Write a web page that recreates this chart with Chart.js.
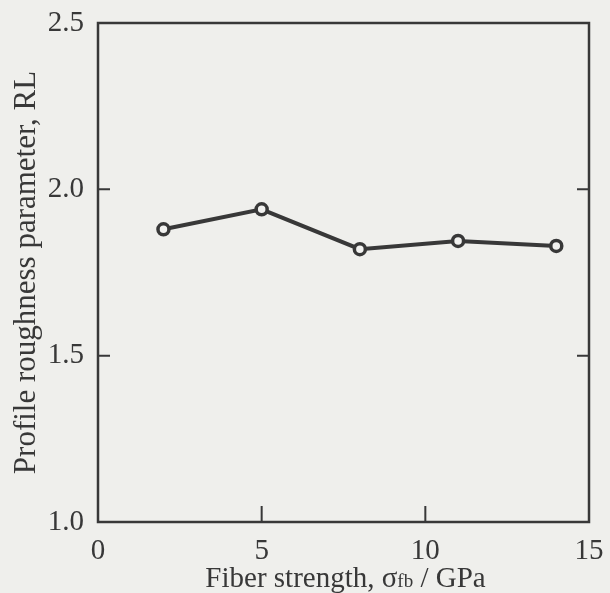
<!DOCTYPE html>
<html>
<head>
<meta charset="utf-8">
<script src="https://cdn.jsdelivr.net/npm/chart.js@4.4.1/dist/chart.umd.min.js"></script>
<style>
  html, body { margin: 0; padding: 0; background: #efefec; }
  #wrap { width: 610px; height: 593px; position: relative; }
</style>
</head>
<body>
<div id="wrap"><canvas id="c" width="610" height="593"></canvas></div>
<script>
// Fiber strength (GPa) and profile roughness parameter RL
const fiberStrength = [2, 5, 8, 11, 14];
const roughnessRL = [1.88, 1.94, 1.82, 1.845, 1.83];
const xTicks = [0, 5, 10, 15];
const yTicks = [1.0, 1.5, 2.0, 2.5];

const INK = '#383838';
const FONT = '"Liberation Serif", "Times New Roman", serif';

// Plot frame with short inward ticks on the left, right and bottom edges
const framePlugin = {
  id: 'frame',
  afterDraw(chart) {
    const { ctx, chartArea: a, scales } = chart;
    ctx.save();
    ctx.strokeStyle = INK;
    ctx.lineWidth = 2.5;
    ctx.strokeRect(a.left, a.top, a.right - a.left, a.bottom - a.top);
    ctx.lineWidth = 2;
    ctx.beginPath();
    yTicks.slice(1, -1).forEach(v => {
      const y = scales.y.getPixelForValue(v);
      ctx.moveTo(a.left, y); ctx.lineTo(a.left + 12, y);
      ctx.moveTo(a.right, y); ctx.lineTo(a.right - 12, y);
    });
    xTicks.slice(1, -1).forEach(v => {
      const x = scales.x.getPixelForValue(v);
      ctx.moveTo(x, a.bottom); ctx.lineTo(x, a.bottom - 16);
    });
    ctx.stroke();

    // x-axis title with a small "fb" after sigma
    const parts = [
      { t: 'Fiber strength, σ', s: 29 },
      { t: 'fb', s: 19 },
      { t: ' / GPa', s: 29 }
    ];
    let total = 0;
    parts.forEach(p => { ctx.font = p.s + 'px ' + FONT; p.w = ctx.measureText(p.t).width; total += p.w; });
    let x = (a.left + a.right) / 2 - total / 2 + 2;
    const base = 587;
    ctx.fillStyle = INK;
    ctx.textBaseline = 'alphabetic';
    ctx.textAlign = 'left';
    parts.forEach(p => { ctx.font = p.s + 'px ' + FONT; ctx.fillText(p.t, x, base); x += p.w; });
    ctx.restore();
  }
};

new Chart(document.getElementById('c'), {
  type: 'scatter',
  data: {
    datasets: [{
      data: fiberStrength.map((v, i) => ({ x: v, y: roughnessRL[i] })),
      showLine: true,
      borderColor: INK,
      borderWidth: 4,
      pointRadius: 5.5,
      pointBorderWidth: 3.5,
      pointBorderColor: INK,
      pointBackgroundColor: '#f2f2f0'
    }]
  },
  options: {
    responsive: false,
    animation: false,
    layout: { padding: { top: 23, right: 21, left: 0, bottom: 0 } },
    plugins: { legend: { display: false }, tooltip: { enabled: false } },
    scales: {
      x: {
        type: 'linear', min: 0, max: 15,
        afterBuildTicks(s) { s.ticks = xTicks.map(v => ({ value: v })); },
        afterFit(s) { s.height = 71; s.paddingLeft = 0; s.paddingRight = 0; },
        grid: { display: false, drawTicks: false },
        border: { display: false },
        ticks: { color: INK, padding: 12, maxRotation: 0, font: { family: FONT, size: 29 } }
      },
      y: {
        type: 'linear', min: 1.0, max: 2.5,
        afterBuildTicks(s) { s.ticks = yTicks.map(v => ({ value: v })); },
        afterFit(s) { s.width = 98; s.paddingTop = 0; s.paddingBottom = 0; },
        grid: { display: false, drawTicks: false },
        border: { display: false },
        ticks: { color: INK, padding: 14, font: { family: FONT, size: 29 }, callback: v => Number(v).toFixed(1) },
        title: { display: true, text: 'Profile roughness parameter, RL', color: INK, padding: { top: 8, bottom: 0 }, font: { family: FONT, size: 31 } }
      }
    }
  },
  plugins: [framePlugin]
});
</script>
</body>
</html>
